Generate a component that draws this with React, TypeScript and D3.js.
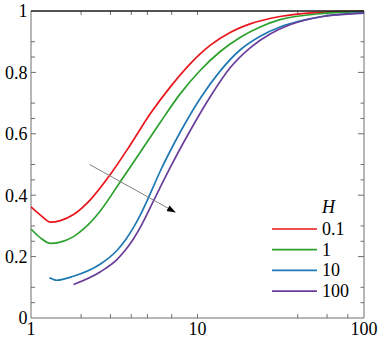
import React from "react";
import { scaleLog, scaleLinear, line, curveMonotoneX } from "d3";

const width = 380;
const height = 338;
const margin = { top: 11, right: 16, bottom: 20, left: 31 };

// H series: [x, value]
const seriesNames = ["0.1", "1", "10", "100"];
const colors = ["#e8161c", "#2ca02c", "#1f78b4", "#6a3d9a"];

const h01 = [
  [1, 0.362], [1.14, 0.335], [1.31, 0.312], [1.5, 0.317], [1.8, 0.337], [2.27, 0.385],
  [3.0, 0.468], [3.94, 0.563], [5.2, 0.665], [6.85, 0.752], [9.03, 0.828], [11.9, 0.888],
  [15.7, 0.93], [20.7, 0.958], [31.3, 0.982], [56.9, 0.996], [100, 1.0],
];
const h1 = [
  [1, 0.29], [1.14, 0.261], [1.31, 0.243], [1.5, 0.247], [1.8, 0.265], [2.07, 0.29],
  [2.6, 0.348], [3.43, 0.443], [4.53, 0.54], [5.97, 0.637], [7.87, 0.73], [10.4, 0.807],
  [13.7, 0.868], [18.0, 0.914], [23.8, 0.948], [31.3, 0.972], [56.9, 0.992], [100, 0.998],
];
const h10 = [
  [1.29, 0.131], [1.43, 0.123], [1.8, 0.136], [2.6, 0.175], [3.28, 0.22], [3.7, 0.255],
  [4.13, 0.295], [4.53, 0.335], [4.96, 0.38], [5.97, 0.478], [7.87, 0.605], [10.4, 0.716],
  [13.7, 0.805], [18.0, 0.873], [23.8, 0.918], [31.3, 0.948], [41, 0.967], [56.9, 0.983],
  [100, 0.995],
];
const h100 = [
  [1.8, 0.109], [2.6, 0.15], [3.28, 0.19], [3.7, 0.222], [4.13, 0.258], [4.53, 0.295],
  [4.96, 0.337], [5.9, 0.42], [6.85, 0.49], [9.03, 0.61], [11.9, 0.72], [15.7, 0.815],
  [20.7, 0.88], [27.3, 0.925], [35.9, 0.955], [56.9, 0.982], [100, 0.993],
];
const seriesData = [h01, h1, h10, h100];

const xLabels = [1, 10, 100];
const xMinorTicks = [2, 3, 4, 5, 7, 40, 60, 80];
const yLabels = [0, 0.2, 0.4, 0.6, 0.8, 1];
const yMinorTicks = [0.05, 0.1, 0.25, 0.3, 0.45, 0.5, 0.65, 0.7, 0.85, 0.9];

// arrow showing growth of H, in data units
const arrowFrom = [2.25, 0.5];
const arrowTo = [7.33, 0.345];

const x = scaleLog().domain([1, 100]).range([margin.left, width - margin.right]);
const y = scaleLinear().domain([0, 1]).range([height - margin.bottom, margin.top]);

const makeLine = line<number[]>()
  .x((d) => x(d[0]))
  .y((d) => y(d[1]))
  .curve(curveMonotoneX);

const textStyle = {
  fontFamily: "Liberation Serif, Tinos, Times New Roman, Times, serif",
  fontSize: "18px",
};
const axisColor = "#6e6e6e";

const App = () => {
  const x0 = x(1);
  const x1 = x(100);
  const y0 = y(0);
  const y1 = y(1);
  const legendX = 272;
  const legendY = 229;
  const legendStep = 20.7;

  return (
    <svg width={width} height={height} style={{ position: "absolute", left: 0, top: 0, background: "#fff" }}>
      <defs>
        <marker id="head" viewBox="0 0 10 10" refX="9" refY="5" markerWidth="9" markerHeight="9" orient="auto">
          <path d="M0,1.5 L10,5 L0,8.5 Z" fill="#000" />
        </marker>
      </defs>

      {/* frame */}
      <line x1={x0} x2={x0} y1={y1} y2={y0} stroke={axisColor} />
      <line x1={x1} x2={x1} y1={y1} y2={y0} stroke={axisColor} />
      <line x1={x0} x2={x1} y1={y0} y2={y0} stroke={axisColor} />

      {/* ticks */}
      {yLabels.slice(1, -1).map((v) => (
        <g key={"ym" + v}>
          <line x1={x0} x2={x0 + 5} y1={y(v)} y2={y(v)} stroke={axisColor} />
          <line x1={x1} x2={x1 - 6} y1={y(v)} y2={y(v)} stroke={axisColor} />
        </g>
      ))}
      {yMinorTicks.map((v) => (
        <g key={"yn" + v}>
          <line x1={x0} x2={x0 + 4} y1={y(v)} y2={y(v)} stroke={axisColor} />
          <line x1={x1} x2={x1 - 3.5} y1={y(v)} y2={y(v)} stroke={axisColor} />
        </g>
      ))}
      {[10, ...xMinorTicks].map((v) => (
        <g key={"xt" + v}>
          <line x1={x(v)} x2={x(v)} y1={y0} y2={y0 - 4} stroke={axisColor} />
          <line x1={x(v)} x2={x(v)} y1={y1} y2={y1 + 4} stroke={axisColor} />
        </g>
      ))}

      {/* series */}
      {seriesData.map((d, i) => (
        <path key={seriesNames[i]} d={makeLine(d) ?? ""} fill="none" stroke={colors[i]} strokeWidth={1.7} />
      ))}

      {/* top line at 1 */}
      <line x1={x0} x2={x1} y1={y1} y2={y1} stroke="#1a1a1a" strokeWidth={1.4} />

      {/* arrow */}
      <line
        x1={x(arrowFrom[0])}
        y1={y(arrowFrom[1])}
        x2={x(arrowTo[0])}
        y2={y(arrowTo[1])}
        stroke="#808080"
        strokeWidth={1}
        markerEnd="url(#head)"
      />

      {/* tick labels */}
      {yLabels.map((v) => (
        <text key={"yl" + v} x={27.5} y={y(v)} dy="0.35em" textAnchor="end" style={textStyle}>
          {v}
        </text>
      ))}
      {xLabels.map((v) => (
        <text key={"xl" + v} x={x(v)} y={335} textAnchor="middle" style={textStyle}>
          {v}
        </text>
      ))}

      {/* legend */}
      <text x={322} y={213} style={{ ...textStyle, fontStyle: "italic" }}>
        H
      </text>
      {seriesNames.map((n, i) => (
        <g key={"lg" + n}>
          <line
            x1={legendX}
            x2={legendX + 45}
            y1={legendY + i * legendStep}
            y2={legendY + i * legendStep}
            stroke={colors[i]}
            strokeWidth={1.7}
          />
          <text x={322} y={legendY + i * legendStep + 6} style={textStyle}>
            {n}
          </text>
        </g>
      ))}
    </svg>
  );
};

export default App;
